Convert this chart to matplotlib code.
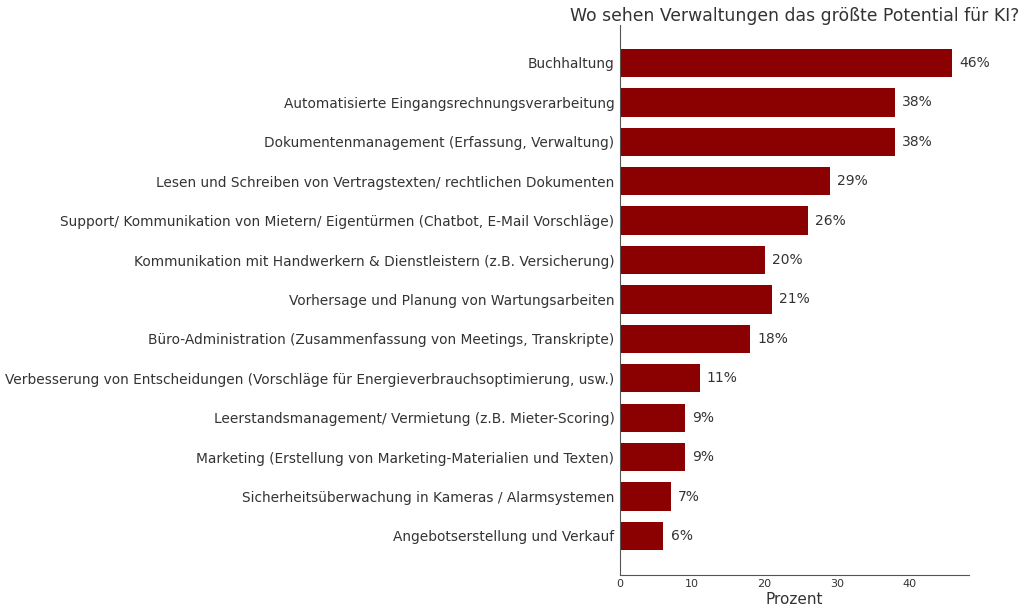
import matplotlib
matplotlib.use("Agg")
import matplotlib.pyplot as plt

categories = [
    "Buchhaltung",
    "Automatisierte Eingangsrechnungsverarbeitung",
    "Dokumentenmanagement (Erfassung, Verwaltung)",
    "Lesen und Schreiben von Vertragstexten/ rechtlichen Dokumenten",
    "Support/ Kommunikation von Mietern/ Eigentürmen (Chatbot, E-Mail Vorschläge)",
    "Kommunikation mit Handwerkern & Dienstleistern (z.B. Versicherung)",
    "Vorhersage und Planung von Wartungsarbeiten",
    "Büro-Administration (Zusammenfassung von Meetings, Transkripte)",
    "Verbesserung von Entscheidungen (Vorschläge für Energieverbrauchsoptimierung, usw.)",
    "Leerstandsmanagement/ Vermietung (z.B. Mieter-Scoring)",
    "Marketing (Erstellung von Marketing-Materialien und Texten)",
    "Sicherheitsüberwachung in Kameras / Alarmsystemen",
    "Angebotserstellung und Verkauf",
]
values = [46, 38, 38, 29, 26, 20, 21, 18, 11, 9, 9, 7, 6]

text_color = "#333333"

fig = plt.figure(figsize=(10.24, 6.13), dpi=100)
ax = fig.add_axes([0.6055, 0.062, 0.3408, 0.897])

y = list(range(len(categories)))
ax.barh(y, values, height=0.72, color="#8b0000")

for yi, v in zip(y, values):
    ax.text(v + 1, yi, f"{v}%", va="center", ha="left", fontsize=10, color=text_color)

ax.set_yticks(y)
ax.set_yticklabels(categories, fontsize=9.9, color=text_color)
ax.set_ylim(12.99, -0.96)
ax.set_xlim(0, 48.3)
ax.set_xticks([0, 10, 20, 30, 40])
ax.tick_params(axis="both", length=0)
ax.tick_params(axis="x", labelsize=8, colors=text_color, pad=3)
ax.tick_params(axis="y", pad=4)

for side in ["top", "right"]:
    ax.spines[side].set_visible(False)
for side in ["left", "bottom"]:
    ax.spines[side].set_color("#555555")

ax.set_xlabel("Prozent", fontsize=11, color=text_color, labelpad=2)
ax.set_title("Wo sehen Verwaltungen das größte Potential für KI?", fontsize=12.4,
             color=text_color, pad=3)

fig.savefig("out.png", dpi=100)
